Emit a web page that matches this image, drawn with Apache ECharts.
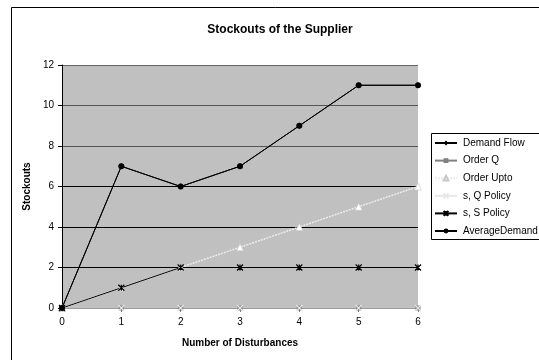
<!DOCTYPE html>
<html>
<head>
<meta charset="utf-8">
<script src="https://cdn.jsdelivr.net/npm/echarts@6/dist/echarts.min.js"></script>
<style>
  html, body { margin: 0; padding: 0; background: #fff; }
  #chart { width: 539px; height: 360px; }
</style>
</head>
<body>
<div id="chart"></div>
<script>
// Disturbance counts along the x axis
const disturbances = ['0', '1', '2', '3', '4', '5', '6'];

// Stockout series
const demandFlow    = [0, 7, 6, 7, 9, 11, 11];
const orderQ        = [0, 0, 0, 0, 0, 0, 0];
const orderUpto     = [0, 1, 2, 3, 4, 5, 6];
const sQPolicy      = [0, 0, 0, 0, 0, 0, 0];
const sSPolicy      = [0, 1, 2, 2, 2, 2, 2];
const averageDemand = [0, 7, 6, 7, 9, 11, 11];

const seriesNames = ['Demand Flow', 'Order Q', 'Order Upto', 's, Q Policy', 's, S Policy', 'AverageDemand'];

const FONT = 'Liberation Sans, Arial, sans-serif';
const crossPath = 'path://M0,0L10,10M10,0L0,10';
const starPath = 'path://M0,0L10,10M10,0L0,10M5,0L5,10';

const chart = echarts.init(document.getElementById('chart'), null, { renderer: 'canvas' });

chart.setOption({
  animation: false,
  backgroundColor: '#fff',
  title: {
    text: 'Stockouts of the Supplier',
    left: 275, top: 19, textAlign: 'center',
    textStyle: { fontFamily: FONT, fontSize: 12, fontWeight: 'bold', color: '#000' }
  },
  graphic: [
    { type: 'rect', shape: { x: 11.5, y: 7.5, width: 600, height: 400 },
      style: { fill: 'none', stroke: '#000', lineWidth: 1 }, z: 0, silent: true },
    { type: 'rect', shape: { x: 431.5, y: 133.5, width: 140, height: 106 },
      style: { fill: '#fff', stroke: '#000', lineWidth: 1 }, z: 1, silent: true }
  ],
  legend: {
    orient: 'vertical',
    left: 434, top: 138,
    itemWidth: 22, itemHeight: 6, itemGap: 7.6,
    padding: 0,
    z: 5,
    data: seriesNames,
    textStyle: { fontFamily: FONT, fontSize: 10, color: '#000', padding: [0, 0, 0, 1] }
  },
  grid: { left: 62, right: 121, top: 65, bottom: 52, show: true,
          backgroundColor: '#c0c0c0', borderWidth: 0 },
  xAxis: {
    type: 'category',
    data: disturbances,
    boundaryGap: false,
    name: 'Number of Disturbances',
    nameLocation: 'middle', nameGap: 30,
    nameTextStyle: { fontFamily: FONT, fontSize: 10, fontWeight: 'bold', color: '#000' },
    axisLine: { lineStyle: { color: '#808080', width: 1 } },
    axisTick: { show: true, length: 4, inside: false, alignWithLabel: true, lineStyle: { color: '#808080' } },
    axisLabel: { fontFamily: FONT, fontSize: 10, color: '#000', margin: 9 },
    splitLine: { show: false }
  },
  yAxis: {
    type: 'value',
    min: 0, max: 12, interval: 2,
    name: 'Stockouts',
    nameLocation: 'middle', nameGap: 27, nameRotate: 90,
    nameTextStyle: { fontFamily: FONT, fontSize: 10, fontWeight: 'bold', color: '#000' },
    axisLine: { show: true, lineStyle: { color: '#000', width: 1 } },
    axisTick: { show: true, length: 4, lineStyle: { color: '#000' } },
    axisLabel: { fontFamily: FONT, fontSize: 10, color: '#000', margin: 8 },
    splitLine: { show: true, lineStyle: { color: ['#808080', '#000', '#000', '#000', '#555', '#555', '#666'], width: 1 } }
  },
  series: [
    { name: 'Demand Flow', type: 'line', data: demandFlow,
      symbol: 'diamond', symbolSize: 6, color: '#000',
      lineStyle: { color: '#000', width: 1 }, itemStyle: { color: '#000' } },
    { name: 'Order Q', type: 'line', data: orderQ,
      symbol: 'rect', symbolSize: 5, color: '#808080',
      lineStyle: { color: '#808080', width: 1 }, itemStyle: { color: '#808080' } },
    { name: 'Order Upto', type: 'line', data: orderUpto,
      symbol: 'triangle', symbolSize: 7, color: '#f2f2f2',
      lineStyle: { color: '#ececec', width: 1.5, type: [2, 1] },
      itemStyle: { color: '#ffffff', borderColor: '#c8c8c8', borderWidth: 0.6 } },
    { name: 's, Q Policy', type: 'line', data: sQPolicy,
      symbol: crossPath, symbolSize: 6, color: '#e0e0e0',
      lineStyle: { color: '#e8e8e8', width: 1 },
      itemStyle: { color: 'rgba(0,0,0,0)', borderColor: '#e8e8e8', borderWidth: 1.2 } },
    { name: 's, S Policy', type: 'line', data: sSPolicy,
      symbol: starPath, symbolSize: 6, color: '#000',
      lineStyle: { color: '#000', width: 1 },
      itemStyle: { color: 'rgba(0,0,0,0)', borderColor: '#000', borderWidth: 1.2 } },
    { name: 'AverageDemand', type: 'line', data: averageDemand,
      symbol: 'circle', symbolSize: 6, color: '#000',
      lineStyle: { color: '#000', width: 1 }, itemStyle: { color: '#000' } }
  ]
});
</script>
</body>
</html>
